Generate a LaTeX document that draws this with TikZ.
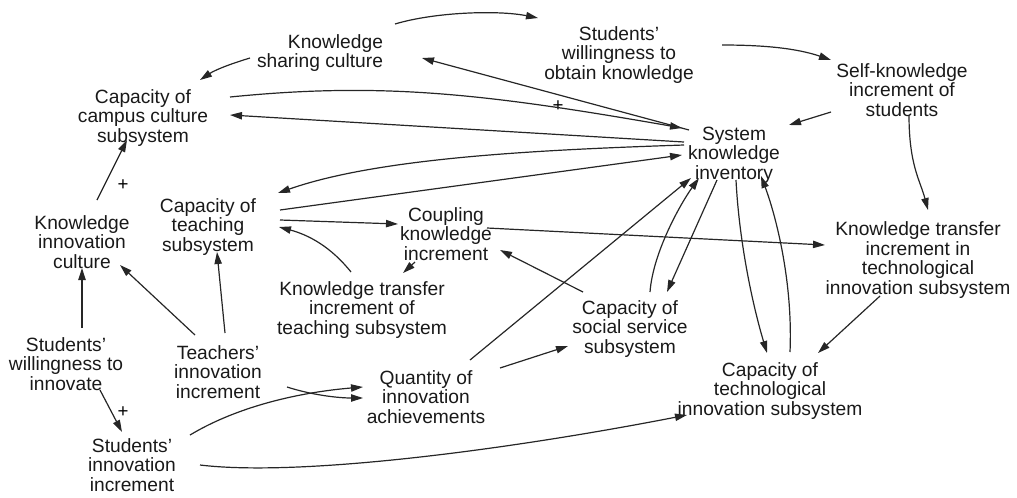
\documentclass[tikz,border=0pt]{standalone}
\usepackage{fontspec}
\setmainfont{Liberation Sans}
\usetikzlibrary{arrows.meta}
\begin{document}
\begin{tikzpicture}[x=0.75pt,y=-0.75pt,
  var/.style={align=center,inner sep=0pt,text=black!90,font=\fontsize{14.4}{14.6}\selectfont},
  link/.style={draw=black!85,line width=0.9pt,-{Triangle[length=9pt,width=5.5pt]}},
  sign/.style={inner sep=0pt,font=\fontsize{14}{14}\selectfont}]
\useasboundingbox (0,0) rectangle (1017,497);

% variables
\node[var,align=right] (ksc) at (320,53) {Knowledge\\sharing culture};
\node[var] (swok) at (619,55) {Students'\\willingness to\\obtain knowledge};
\node[var] (skis) at (902,90) {Self-knowledge\\increment of\\students};
\node[var] (cccs) at (143,118) {Capacity of\\campus culture\\subsystem};
\node[var] (ski) at (734,155) {System\\knowledge\\inventory};
\node[var] (cts) at (208,227) {Capacity of\\teaching\\subsystem};
\node[var] (kic) at (82,242) {Knowledge\\innovation\\culture};
\node[var] (cki) at (446,234) {Coupling\\knowledge\\increment};
\node[var] (ktits) at (362,310) {Knowledge transfer\\increment of\\teaching subsystem};
\node[var] (ktiti) at (918,260) {Knowledge transfer\\increment in\\technological\\innovation subsystem};
\node[var] (csss) at (630,329) {Capacity of\\social service\\subsystem};
\node[var] (swi) at (66,364) {Students'\\willingness to\\innovate};
\node[var] (tii) at (218,372) {Teachers'\\innovation\\increment};
\node[var] (qia) at (426,397) {Quantity of\\innovation\\achievements};
\node[var] (ctis) at (770,391) {Capacity of\\technological\\innovation subsystem};
\node[var] (sii) at (132,465) {Students'\\innovation\\increment};

% polarity signs
\node[sign] (p1) at (123,185) {+};
\node[sign] (p2) at (558,106) {+};
\node[sign] (p3) at (123,412) {+};

% links
\draw[link] ([shift={(75,-29)}]ksc.center) .. controls +(40,-12) and +(-40,-8) .. ([shift={(-81,-37)}]swok.center);
\draw[link] ([shift={(103,-10)}]swok.center) .. controls +(40,0) and +(-35,-12) .. ([shift={(-71,-30)}]skis.center);
\draw[link] ([shift={(-70,5)}]ksc.center) .. controls +(-20,6) and +(15,-10) .. ([shift={(57,-38)}]cccs.center);
\draw[link] ([shift={(-45,-25)}]ski.center) -- ([shift={(102,5)}]ksc.center);
\draw[link] ([shift={(87,-21)}]cccs.center) .. controls +(150,-15) and +(-200,-35) .. ([shift={(-52,-27)}]ski.center);
\draw[link] ([shift={(-50,-13)}]ski.center) -- ([shift={(87,-3)}]cccs.center);
\draw[link] ([shift={(-50,-10)}]ski.center) .. controls +(-150,5) and +(100,-35) .. ([shift={(70,-34)}]cts.center);
\draw[link] ([shift={(72,-17)}]cts.center) -- ([shift={(-52,0)}]ski.center);
\draw[link] ([shift={(-71,22)}]skis.center) -- ([shift={(55,-30)}]ski.center);
\draw[link] ([shift={(7,25)}]skis.center) .. controls +(0,50) and +(-8,-30) .. ([shift={(10,-50)}]ktiti.center);
\draw[link] ([shift={(15,-42)}]kic.center) -- ([shift={(-16,22)}]cccs.center);
\draw[link] ([shift={(72,-7)}]cts.center) -- ([shift={(-48,-10)}]cki.center);
\draw[link] ([shift={(-11,-38)}]ktits.center) .. controls +(-20,-25) and +(30,8) .. ([shift={(71,0)}]cts.center);
\draw[link] ([shift={(-31,28)}]cki.center) -- ([shift={(41,-37)}]ktits.center);
\draw[link] ([shift={(41,-6)}]cki.center) -- ([shift={(-93,-15)}]ktiti.center);
\draw[link] ([shift={(-47,-37)}]csss.center) -- ([shift={(54,16)}]cki.center);
\draw[link] ([shift={(20,-37)}]csss.center) .. controls +(3,-40) and +(-18,25) .. ([shift={(-35,23)}]ski.center);
\draw[link] ([shift={(-17,25)}]ski.center) -- ([shift={(37,-37)}]csss.center);
\draw[link] ([shift={(44,-37)}]qia.center) -- ([shift={(-43,23)}]ski.center);
\draw[link] ([shift={(2,25)}]ski.center) .. controls +(3,60) and +(-15,-50) .. ([shift={(-3,-38)}]ctis.center);
\draw[link] ([shift={(20,-39)}]ctis.center) .. controls +(3,-70) and +(15,40) .. ([shift={(27,21)}]ski.center);
\draw[link] ([shift={(-38,36)}]ktiti.center) -- ([shift={(48,-38)}]ctis.center);
\draw[link] ([shift={(74,-29)}]qia.center) -- ([shift={(-62,17)}]csss.center);
\draw[link] ([shift={(16,-36)}]swi.center) -- ([shift={(0,26)}]kic.center);
\draw[link] ([shift={(-23,-37)}]tii.center) -- ([shift={(38,23)}]kic.center);
\draw[link] ([shift={(7,-39)}]tii.center) -- ([shift={(9,25)}]cts.center);
\draw[link] ([shift={(69,15)}]tii.center) .. controls +(25,8) and +(-25,0) .. ([shift={(-63,1)}]qia.center);
\draw[link] ([shift={(58,-30)}]sii.center) .. controls +(50,-30) and +(-60,5) .. ([shift={(-63,-10)}]qia.center);
\draw[link] ([shift={(34,26)}]swi.center) -- ([shift={(-10,-33)}]sii.center);
\draw[link] ([shift={(68,0)}]sii.center) .. controls +(100,12) and +(-180,35) .. ([shift={(-83,24)}]ctis.center);
\end{tikzpicture}
\end{document}
